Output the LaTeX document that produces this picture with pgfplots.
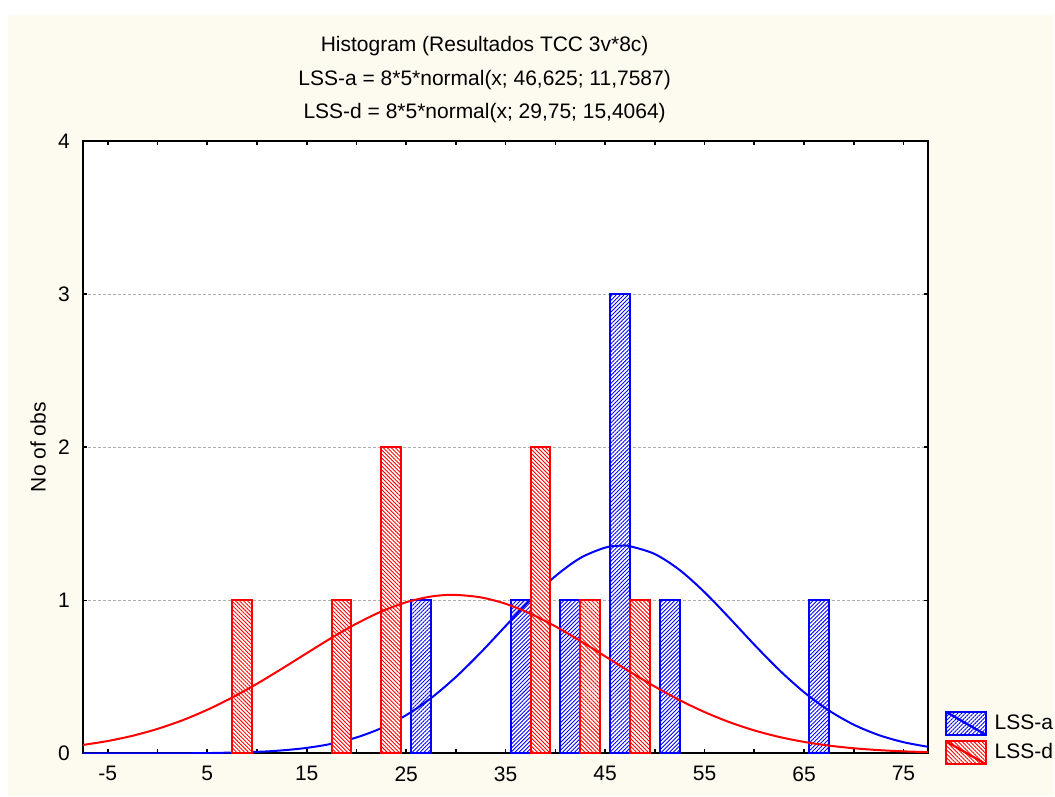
\documentclass[border=0pt]{standalone}
\usepackage{fontspec}
\setmainfont{Liberation Sans}
\usepackage{pgfplots}
\pgfplotsset{compat=1.18}
\usetikzlibrary{patterns.meta}
\definecolor{cream}{RGB}{253,250,240}
\definecolor{gridgray}{RGB}{175,175,175}

\tikzset{
  hatchA/.style={pattern={Lines[angle=45,distance=1.4pt,line width=0.45pt]}, pattern color=blue},
  hatchD/.style={pattern={Lines[angle=-45,distance=1.4pt,line width=0.45pt]}, pattern color=red},
}

\begin{document}
\begin{tikzpicture}
\begin{scope}[x=0.5pt,y=-0.5pt]
\fill[white] (0,0) rectangle (1055,797);
\fill[cream] (8,15) rectangle (1055,797);
\end{scope}

\begin{axis}[
  at={(41.5pt,-377pt)}, anchor=south west,
  scale only axis, width=423pt, height=306.5pt,
  xmin=-7.5, xmax=77.5, ymin=0, ymax=4,
  axis background/.style={fill=white},
  axis line style={line width=1pt, black},
  xtick={-5,5,...,75}, minor xtick={0,10,...,70},
  ytick={0,1,2,3,4},
  tick align=inside,
  major tick length=2pt, minor tick length=2pt,
  every tick/.style={black, line width=0.8pt},
  ymajorgrids,
  grid style={gridgray, line width=0.5pt, dash pattern=on 1.5pt off 1pt},
  ticklabel style={font=\fontsize{10.5}{12}\selectfont},
  /pgf/number format/assume math mode=true,
  xticklabel style={yshift=-3pt},
  yticklabel style={xshift=-3pt},
  ylabel={No of obs},
  ylabel style={at={(axis description cs:-0.053,0.5)}, anchor=center, font=\fontsize{10.5}{12}\selectfont},
  legend style={at={(axis description cs:1,0)}, anchor=south west, xshift=8pt, yshift=-6pt,
    draw=none, fill=none, inner sep=0pt, row sep=2.2pt,
    font=\fontsize{10.5}{12}\selectfont,
    nodes={inner sep=1pt},
    /tikz/every odd column/.append style={column sep=3pt}},
  legend cell align=left,
]
% LSS-a bars
\addplot[ybar, bar width=2, bar shift=0pt, draw=blue, line width=1pt,
  preaction={fill=white}, hatchA,
  legend image code/.code={
    \draw[blue, line width=1pt, preaction={fill=white}, hatchA] (0pt,-5.75pt) rectangle (20pt,5.75pt);
    \draw[blue, line width=1pt] (0pt,5.75pt) -- (20pt,-5.75pt);}]
  coordinates {(26.5,1) (36.5,1) (41.5,1) (46.5,3) (51.5,1) (66.5,1)};
\addlegendentry{LSS-a}
% LSS-a normal curve
\addplot[blue, line width=1pt, smooth, forget plot] coordinates {
  (-7.5,0) (0,0.0005) (5,0.0026) (10,0.0106) (12.5,0.0201) (15,0.0365)
  (17.5,0.0632) (20,0.1045) (22.5,0.1654) (25,0.2501) (27.5,0.3615)
  (30,0.4996) (32.5,0.6595) (35,0.8325) (37.5,1.0043) (40,1.1580)
  (42.5,1.2761) (45,1.3442) (46.625,1.3571) (47.5,1.3533) (50,1.3023)
  (52.5,1.1979) (55,1.0531) (57.5,0.8848) (60,0.7107) (62.5,0.5456)
  (65,0.4002) (67.5,0.2807) (70,0.1881) (72.5,0.1205) (75,0.0738) (77.5,0.0432)};
% LSS-d bars
\addplot[ybar, bar width=2, bar shift=0pt, draw=red, line width=1pt,
  preaction={fill=white}, hatchD,
  legend image code/.code={
    \draw[red, line width=1pt, preaction={fill=white}, hatchD] (0pt,-5.75pt) rectangle (20pt,5.75pt);
    \draw[red, line width=1pt] (0pt,5.75pt) -- (20pt,-5.75pt);}]
  coordinates {(8.5,1) (18.5,1) (23.5,2) (38.5,2) (43.5,1) (48.5,1)};
\addlegendentry{LSS-d}
% LSS-d normal curve
\addplot[red, line width=1pt, smooth, forget plot] coordinates {
  (-7.5,0.0557) (-5,0.0814) (-2.5,0.1158) (0,0.1606) (2.5,0.2167) (5,0.2850)
  (7.5,0.3650) (10,0.4554) (12.5,0.5534) (15,0.6549) (17.5,0.7551)
  (20,0.8478) (22.5,0.9272) (25,0.9877) (27.5,1.0248) (29.75,1.0358)
  (32.5,1.0194) (35,0.9774) (37.5,0.9128) (40,0.8302) (42.5,0.7354)
  (45,0.6346) (47.5,0.5333) (50,0.4367) (52.5,0.3481) (55,0.2704)
  (57.5,0.2046) (60,0.1507) (62.5,0.1081) (65,0.0756) (67.5,0.0514)
  (70,0.0341) (72.5,0.0220) (75,0.0139) (77.5,0.0085)};
\end{axis}

\begin{scope}[x=0.5pt,y=-0.5pt, every node/.style={font=\fontsize{10.5}{12}\selectfont, inner sep=0pt}]
\node at (485,46) {Histogram (Resultados TCC 3v*8c)};
\node at (485,80) {LSS-a = 8*5*normal(x; 46,625; 11,7587)};
\node at (485,113) {LSS-d = 8*5*normal(x; 29,75; 15,4064)};
\end{scope}
\end{tikzpicture}
\end{document}
